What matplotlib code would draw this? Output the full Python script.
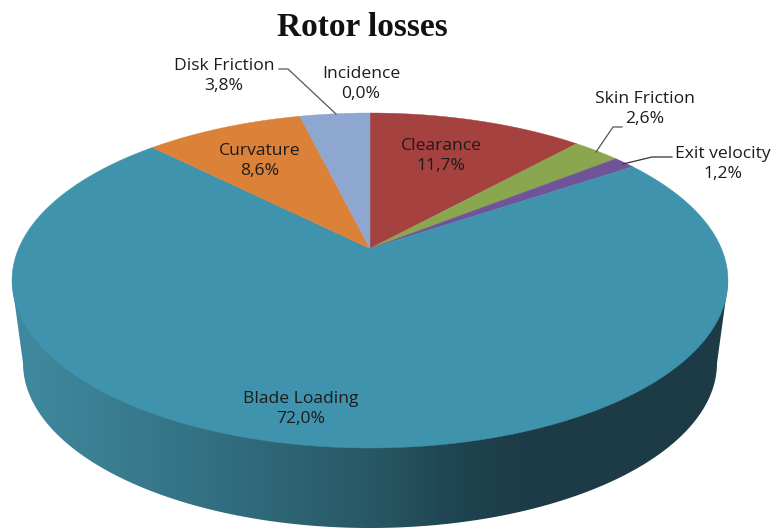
import numpy as np
import matplotlib
matplotlib.use('Agg')
import matplotlib.pyplot as plt
from matplotlib.colors import LinearSegmentedColormap
from matplotlib.patches import Polygon

labels = ['Clearance', 'Skin Friction', 'Exit velocity', 'Blade Loading', 'Curvature', 'Disk Friction', 'Incidence']
values = [11.7, 2.6, 1.2, 72.0, 8.6, 3.8, 0.0]
value_text = ['11,7%', '2,6%', '1,2%', '72,0%', '8,6%', '3,8%', '0,0%']
colors = ['#a5413f', '#8aa64e', '#70549a', '#3f93ad', '#dc8138', '#8da7d1', '#c0504d']
label_pos = [(441, 156), (645, 109), (723, 164), (301, 409), (260, 161), (224, 76), (361, 84)]

fig = plt.figure(figsize=(7.78, 5.28), dpi=100)
ax = fig.add_axes([0, 0, 1, 1])
ax.set_xlim(0, 778)
ax.set_ylim(528, 0)
ax.axis('off')

cx, cy = 370, 280.5
A, B, C, k = 351.4, 167.5, 32.0, 0.191


def top_point(theta):
    # perspective view of the unit circle, theta clockwise from twelve o'clock
    u, v = np.sin(theta), np.cos(theta)
    return cx + A * u / (1 + k * v), cy - (B * v + C) / (1 + k * v)


# side wall, between top ellipse and lower ellipse
t = np.linspace(0, 2 * np.pi, 721)
bx = 370 + 347 * np.cos(t)
by = 363 + 165 * np.sin(t)
lower = t <= np.pi
wall = np.column_stack([
    np.r_[728, bx[lower], 12],
    np.r_[283, by[lower], 283],
])
stops = [(0, '#3f8aa1'), (0.12, '#3b7f93'), (0.35, '#2f6879'), (0.5, '#285865'),
         (0.62, '#1f4551'), (0.72, '#1c3b46'), (1, '#1c3b46')]
cmap = LinearSegmentedColormap.from_list('wall', stops)
img = ax.imshow(np.linspace(0, 1, 400).reshape(1, -1), cmap=cmap, aspect='auto',
                extent=(12, 728, 528, 200), zorder=1)
ax.set_xlim(0, 778)
ax.set_ylim(528, 0)
patch = Polygon(wall, closed=True, transform=ax.transData, facecolor='none', edgecolor='none')
ax.add_patch(patch)
img.set_clip_path(patch)

# top face
edges = np.r_[0, np.cumsum(values)] / np.sum(values) * 2 * np.pi
for i in range(len(values)):
    if values[i] == 0:
        continue
    th = np.linspace(edges[i], edges[i + 1], 300)
    x, y = top_point(th)
    ax.fill(np.r_[cx, x], np.r_[cy - C, y], color=colors[i], lw=0.3, zorder=2)

# labels
for name, val, (lx, ly) in zip(labels, value_text, label_pos):
    ax.text(lx, ly, name + '\n' + val, ha='center', va='center', fontsize=12.6,
            family='Open Sans', color='#1c1c1c', linespacing=1.38, zorder=4)

# leader lines
ax.plot([279, 288, 336], [69, 69, 114], color='#555555', lw=0.9, zorder=3)
ax.plot([622, 613, 596], [127, 127, 152], color='#555555', lw=0.9, zorder=3)
ax.plot([672, 652, 623], [157, 157, 164], color='#333333', lw=0.9, zorder=3)

ax.text(362, 28, 'Rotor losses', ha='center', va='center', fontsize=24,
        family='Liberation Serif', fontweight='bold', color='#111111')

fig.savefig('out.png', dpi=100, facecolor='white')
